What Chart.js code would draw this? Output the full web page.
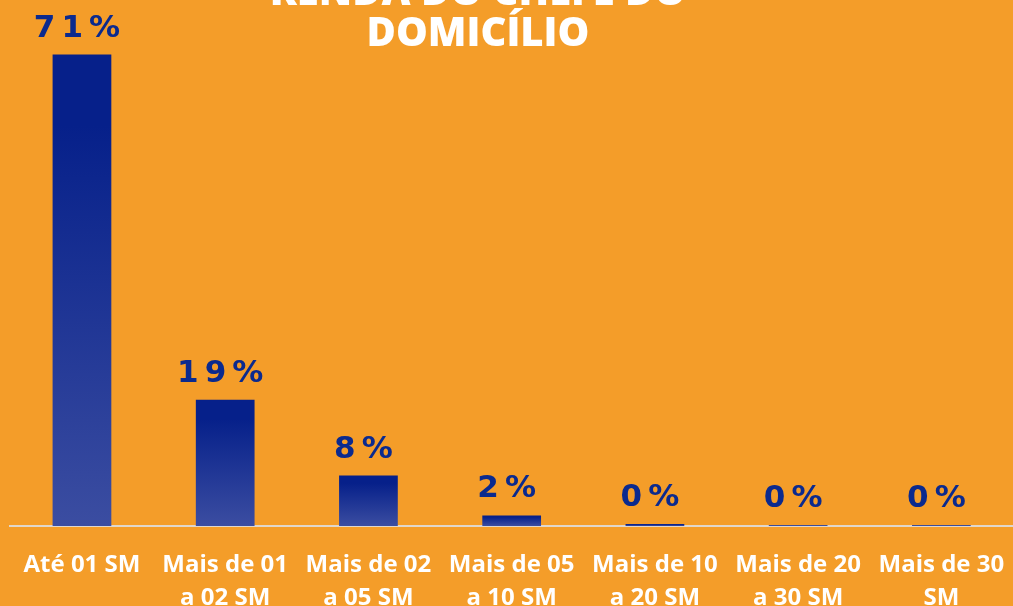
<!DOCTYPE html>
<html lang="pt-BR">
<head>
<meta charset="utf-8">
<title>Renda do chefe do domicílio</title>
<script src="https://cdn.jsdelivr.net/npm/chart.js@4.4.1/dist/chart.umd.min.js"></script>
<style>
  html, body { margin: 0; padding: 0; overflow: hidden; background: #F49D29; }
  #wrap { position: absolute; left: 0; top: 0; width: 1030px; height: 640px; }
  canvas { display: block; }
</style>
</head>
<body>
<div id="wrap"><canvas id="chart" width="1030" height="640"></canvas></div>
<script>
  // ── Data ──
  const CATEGORIES = [
    ['Até 01 SM'],
    ['Mais de 01', 'a 02 SM'],
    ['Mais de 02', 'a 05 SM'],
    ['Mais de 05', 'a 10 SM'],
    ['Mais de 10', 'a 20 SM'],
    ['Mais de 20', 'a 30 SM'],
    ['Mais de 30', 'SM']
  ];
  const SHARES = [71, 19, 7.6, 1.6, 0.3, 0.1, 0.1];
  const SHARE_LABELS = ['71%', '19%', '8%', '2%', '0%', '0%', '0%'];
  const TITLE_LINES = ['RENDA DO CHEFE DO', 'DOMICÍLIO'];

  const BLUE_TOP = '#06208A';
  const BLUE_BOTTOM = '#3B4DA1';
  const LABEL_BLUE = '#0B2A8E';

  // ── Title (sits partly above the visible frame) ──
  const titlePlugin = {
    id: 'titleText',
    afterDraw(chart) {
      const ctx = chart.ctx;
      ctx.save();
      ctx.fillStyle = '#ffffff';
      ctx.font = '800 40px "Open Sans"';
      ctx.textAlign = 'center';
      ctx.textBaseline = 'alphabetic';
      ctx.fillText(TITLE_LINES[0], 478, 5);
      ctx.fillText(TITLE_LINES[1], 478, 46);
      ctx.restore();
    }
  };

  // ── Value labels above bars ──
  const valueLabels = {
    id: 'valueLabels',
    afterDatasetsDraw(chart) {
      const ctx = chart.ctx;
      const meta = chart.getDatasetMeta(0);
      ctx.save();
      ctx.fillStyle = LABEL_BLUE;
      ctx.font = 'bold 31px "DejaVu Sans"';
      ctx.textAlign = 'center';
      ctx.textBaseline = 'alphabetic';
      ctx.letterSpacing = '6px';
      meta.data.forEach((bar, i) => {
        ctx.fillText(SHARE_LABELS[i], bar.x - 2, bar.y - 18);
      });
      ctx.restore();
    }
  };

  function barGradient(c) {
    const chart = c.chart;
    if (!chart.chartArea) return BLUE_TOP;
    const y = chart.scales.y;
    const top = y.getPixelForValue(SHARES[c.dataIndex]);
    const bottom = y.getPixelForValue(0);
    const g = chart.ctx.createLinearGradient(0, top, 0, Math.max(bottom, top + 1));
    g.addColorStop(0, BLUE_TOP);
    g.addColorStop(0.15, BLUE_TOP);
    g.addColorStop(1, BLUE_BOTTOM);
    return g;
  }

  new Chart(document.getElementById('chart'), {
    type: 'bar',
    data: {
      labels: CATEGORIES,
      datasets: [{
        data: SHARES,
        backgroundColor: barGradient,
        borderWidth: 0,
        categoryPercentage: 1,
        barPercentage: 0.41
      }]
    },
    options: {
      responsive: false,
      animation: false,
      layout: { padding: { top: 28, left: 7, right: 17, bottom: 0 } },
      plugins: {
        legend: { display: false },
        tooltip: { enabled: false },
        title: { display: false }
      },
      scales: {
        x: {
          grid: { display: false, drawTicks: false },
          border: { display: true, color: 'rgba(222,218,212,0.95)', width: 2 },
          ticks: {
            color: '#ffffff',
            padding: 23,
            maxRotation: 0,
            autoSkip: false,
            font: { family: '"Open Sans"', weight: 'bold', size: 24, lineHeight: 1.375 }
          },
          afterFit(scale) { scale.height = 640 - 526; }
        },
        y: {
          display: false,
          min: 0,
          max: 75
        }
      }
    },
    plugins: [titlePlugin, valueLabels]
  });
</script>
</body>
</html>
